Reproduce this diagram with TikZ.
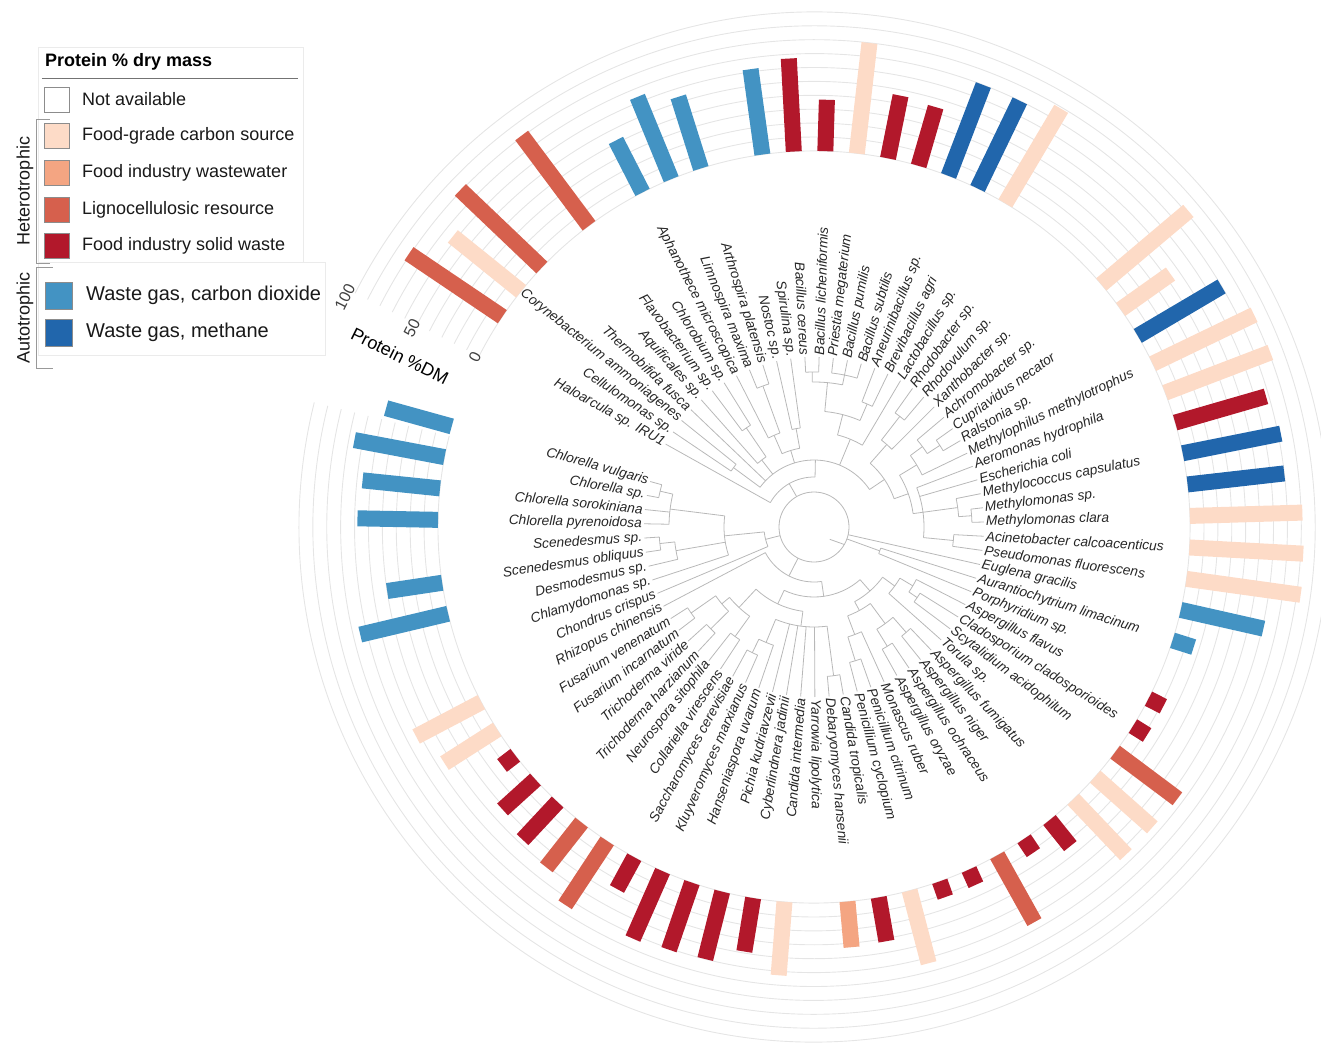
\documentclass[tikz,border=0pt]{standalone}
\usepackage{fontspec}
\setmainfont{Liberation Sans}
\usepackage{xcolor}
\usepackage{tikz}
\usetikzlibrary{positioning}

\definecolor{foodgrade}{HTML}{FDDBC7}
\definecolor{wastewater}{HTML}{F4A582}
\definecolor{ligno}{HTML}{D6604D}
\definecolor{solidwaste}{HTML}{B2182B}
\definecolor{co2}{HTML}{4393C3}
\definecolor{methane}{HTML}{2166AC}

\tikzset{
  treeline/.style={draw=black!28, line width=0.8pt},
  gridline/.style={draw=black!10, line width=0.9pt},
  leaftext/.style={font=\fontsize{13.75}{16}\selectfont\itshape, text=black!85, inner sep=0pt},
  keybox/.style={draw=black!45, line width=0.8pt, minimum size=25pt, inner sep=0pt},
  keytext/.style={font=\fontsize{18}{21}\selectfont, text=black!90, anchor=west, inner sep=0pt},
  autotext/.style={keytext, font=\fontsize{20}{23}\selectfont},
  bracket/.style={draw=black!40, line width=0.8pt},
}

% angle of leaf k
\newcommand{\ang}[1]{150.8-(#1-1)*4.81}
\newcommand{\tleaf}[2]{\draw[treeline] ({\ang{#1}}:#2) -- ({\ang{#1}}:170);}
\newcommand{\tstem}[3]{\draw[treeline] ({\ang{#1}}:#2) -- ({\ang{#1}}:#3);}
\newcommand{\tclade}[3]{\draw[treeline] ({\ang{#2}}:#1) arc[start angle={\ang{#2}}, end angle={\ang{#3}}, radius=#1];}
\newcommand{\pbar}[3]{\fill[#2, rotate={\ang{#1}}] (376,-8) rectangle ({376+1.39*#3},8);}
\newcommand{\leaf}[3]{%
  \pgfmathsetmacro{\leafang}{\ang{#1}}%
  \pgfmathparse{(\leafang>90 || \leafang<-90) ? 1 : 0}%
  \ifdim\pgfmathresult pt>0.5pt
    \node[leaftext, anchor=east, rotate=\leafang+180] (#2) at (\leafang:172) {#3};%
  \else
    \node[leaftext, anchor=west, rotate=\leafang] (#2) at (\leafang:172) {#3};%
  \fi}

\begin{document}
\begin{tikzpicture}[x=1pt, y=1pt]
    \useasboundingbox (-814,-518) rectangle (507,527);

    % grid rings of the bar track
    \foreach \g in {0,...,10}
        \draw[gridline] (153:{376+13.9*\g}) arc[start angle=153, end angle=-194, radius={376+13.9*\g}];

    % axis of the track
    \node[font=\fontsize{16}{18}\selectfont, text=black!75, rotate=63.5] (tick0) at (-339,170) {0};
    \node[font=\fontsize{16}{18}\selectfont, text=black!75, rotate=63.5] (tick50) at (-402,199) {50};
    \node[font=\fontsize{16}{18}\selectfont, text=black!75, rotate=63.5] (tick100) at (-469,230) {100};
    \node[font=\fontsize{18}{21}\selectfont, rotate=-26.5] (axistitle) at (-414,171) {Protein \%DM};

    % protein bars
    \pbar{2}{ligno}{81}
    \pbar{3}{foodgrade}{63}
    \pbar{4}{ligno}{81}
    \pbar{6}{ligno}{81}
    \pbar{8}{co2}{42}
    \pbar{9}{co2}{64}
    \pbar{10}{co2}{54}
    \pbar{12}{co2}{62}
    \pbar{13}{solidwaste}{67}
    \pbar{14}{solidwaste}{37}
    \pbar{15}{foodgrade}{80}
    \pbar{16}{solidwaste}{46}
    \pbar{17}{solidwaste}{44}
    \pbar{18}{methane}{70}
    \pbar{19}{methane}{70}
    \pbar{20}{foodgrade}{79}
    \pbar{24}{foodgrade}{82}
    \pbar{25}{foodgrade}{44}
    \pbar{26}{methane}{70}
    \pbar{27}{foodgrade}{81}
    \pbar{28}{foodgrade}{81}
    \pbar{29}{solidwaste}{68}
    \pbar{30}{methane}{72}
    \pbar{31}{methane}{70}
    \pbar{32}{foodgrade}{81}
    \pbar{33}{foodgrade}{82}
    \pbar{34}{foodgrade}{83}
    \pbar{35}{co2}{61}
    \pbar{36}{co2}{16}
    \pbar{38}{solidwaste}{12}
    \pbar{39}{solidwaste}{12}
    \pbar{40}{ligno}{56}
    \pbar{41}{foodgrade}{55}
    \pbar{42}{foodgrade}{55}
    \pbar{43}{solidwaste}{24}
    \pbar{44}{solidwaste}{12}
    \pbar{45}{ligno}{55}
    \pbar{46}{solidwaste}{12}
    \pbar{47}{solidwaste}{12}
    \pbar{48}{foodgrade}{54}
    \pbar{49}{solidwaste}{32}
    \pbar{50}{wastewater}{33}
    \pbar{52}{foodgrade}{53}
    \pbar{53}{solidwaste}{39}
    \pbar{54}{solidwaste}{50}
    \pbar{55}{solidwaste}{51}
    \pbar{56}{solidwaste}{53}
    \pbar{57}{solidwaste}{26}
    \pbar{58}{ligno}{55}
    \pbar{59}{ligno}{41}
    \pbar{60}{solidwaste}{37}
    \pbar{61}{solidwaste}{32}
    \pbar{62}{solidwaste}{12}
    \pbar{63}{foodgrade}{45}
    \pbar{64}{foodgrade}{53}
    \pbar{67}{co2}{65}
    \pbar{68}{co2}{40}
    \pbar{70}{co2}{58}
    \pbar{71}{co2}{56}
    \pbar{72}{co2}{66}
    \pbar{73}{co2}{49}

    % tree: root
    \draw[treeline] (0,0) circle[radius=35];
    \draw[treeline] (-38:20) -- (-30:35);
    % prokaryotes
    \tstem{7.45}{35}{50} \tclade{50}{1}{13.89} \tleaf{1}{50}
    \tstem{13.89}{50}{67} \tclade{67}{2.5}{25.28}
    \tstem{2.5}{67}{100} \tclade{100}{2}{3} \tleaf{2}{100} \tleaf{3}{100}
    \tleaf{4}{67}
    \tstem{5.75}{67}{85} \tclade{85}{5}{6.5} \tleaf{5}{85}
    \tstem{6.5}{85}{120} \tclade{120}{6}{7} \tleaf{6}{120} \tleaf{7}{120}
    \tstem{10.125}{67}{80} \tclade{80}{8.75}{11.5}
    \tstem{8.75}{80}{100} \tclade{100}{8}{9.5} \tleaf{8}{100}
    \tstem{9.5}{100}{150} \tclade{150}{9}{10} \tleaf{9}{150} \tleaf{10}{150}
    \tstem{11.5}{80}{100} \tclade{100}{11}{12} \tleaf{11}{100} \tleaf{12}{100}
    \tstem{18.31}{67}{95} \tclade{95}{16.625}{20} \tleaf{20}{95}
    \tstem{16.625}{95}{116} \tclade{116}{14.75}{18.5}
    \tstem{14.75}{116}{145} \tclade{145}{13.5}{16}
    \tstem{13.5}{145}{155} \tclade{155}{13}{14} \tleaf{13}{155} \tleaf{14}{155}
    \tstem{16}{145}{155} \tclade{155}{15}{17} \tleaf{15}{155} \tleaf{16}{155} \tleaf{17}{155}
    \tstem{18.5}{116}{134} \tclade{134}{18}{19} \tleaf{18}{134} \tleaf{19}{134}
    \tstem{25.28}{67}{85} \tclade{85}{22.25}{28.31}
    \tstem{22.25}{85}{110} \tclade{110}{21.5}{23} \tleaf{23}{110}
    \tstem{21.5}{110}{140} \tclade{140}{21}{22} \tleaf{21}{140} \tleaf{22}{140}
    \tstem{28.31}{85}{100} \tclade{100}{25.875}{30.75}
    \tstem{25.875}{100}{120} \tclade{120}{24.75}{27} \tleaf{27}{120}
    \tstem{24.75}{120}{135} \tclade{135}{24}{25.5} \tleaf{24}{135}
    \tstem{25.5}{135}{150} \tclade{150}{25}{26} \tleaf{25}{150} \tleaf{26}{150}
    \tstem{30.75}{100}{110} \tclade{110}{28}{33.5} \tleaf{28}{110} \tleaf{29}{110}
    \tstem{30.75}{110}{145} \tclade{145}{30}{31.5} \tleaf{30}{145}
    \tstem{31.5}{145}{158} \tclade{158}{31}{32} \tleaf{31}{158} \tleaf{32}{158}
    \tstem{33.5}{110}{140} \tclade{140}{33}{34} \tleaf{33}{140} \tleaf{34}{140}
    % eukaryotes
    \tleaf{35}{35}
    \tstem{36.5}{35}{70} \tclade{70}{36}{37} \tleaf{36}{70} \tleaf{37}{70}
    \tstem{56.7}{35}{55} \tclade{55}{49.4}{64} \tleaf{64}{55}
    \tstem{49.4}{55}{70} \tclade{70}{42.5}{56.31}
    \tstem{42.5}{70}{85} \tclade{85}{39.875}{45.125}
    \tstem{39.875}{85}{100} \tclade{100}{38.75}{41} \tleaf{41}{100}
    \tstem{38.75}{100}{115} \tclade{115}{38}{39.5} \tleaf{38}{115}
    \tstem{39.5}{115}{125} \tclade{125}{39}{40} \tleaf{39}{125} \tleaf{40}{125}
    \tstem{45.125}{85}{95} \tclade{95}{43.5}{46.75}
    \tstem{43.5}{95}{120} \tclade{120}{42.5}{44.5}
    \tstem{42.5}{120}{140} \tclade{140}{42}{43} \tleaf{42}{140} \tleaf{43}{140}
    \tstem{44.5}{120}{140} \tclade{140}{44}{45} \tleaf{44}{140} \tleaf{45}{140}
    \tstem{46.75}{95}{115} \tclade{115}{46}{47.5} \tleaf{46}{115}
    \tstem{47.5}{115}{140} \tclade{140}{47}{48} \tleaf{47}{140} \tleaf{48}{140}
    \tstem{56.31}{70}{85} \tclade{85}{52.625}{60}
    \tstem{52.625}{85}{100} \tclade{100}{49.5}{55.75}
    \tleaf{51}{100} \tleaf{52}{100} \tleaf{53}{100} \tleaf{54}{100}
    \tstem{49.5}{100}{150} \tclade{150}{49}{50} \tleaf{49}{150} \tleaf{50}{150}
    \tstem{55.75}{100}{125} \tclade{125}{55}{56.5} \tleaf{55}{125}
    \tstem{56.5}{125}{140} \tclade{140}{56}{57} \tleaf{56}{140} \tleaf{57}{140}
    \tstem{60}{85}{110} \tclade{110}{58.5}{61.5}
    \tstem{58.5}{110}{135} \tclade{135}{58}{59} \tleaf{58}{135} \tleaf{59}{135}
    \tstem{61.5}{110}{120} \tclade{120}{60.5}{62.5}
    \tstem{60.5}{120}{145} \tclade{145}{60}{61} \tleaf{60}{145} \tleaf{61}{145}
    \tstem{62.5}{120}{150} \tclade{150}{62}{63} \tleaf{62}{150} \tleaf{63}{150}
    \tstem{66.8}{35}{50} \tclade{50}{65}{68.6} \tleaf{65}{50}
    \tstem{68.6}{50}{90} \tclade{90}{66}{71.25} \tleaf{66}{90}
    \tstem{67.75}{90}{140} \tclade{140}{67}{68.5} \tleaf{67}{140}
    \tstem{68.5}{140}{155} \tclade{155}{68}{69} \tleaf{68}{155} \tleaf{69}{155}
    \tstem{71.25}{90}{145} \tclade{145}{70}{72.5} \tleaf{70}{145} \tleaf{71}{145}
    \tstem{72.5}{145}{158} \tclade{158}{72}{73} \tleaf{72}{158} \tleaf{73}{158}

    % tip labels
    \leaf{1}{haloarcula}{Haloarcula sp. IRU1}
    \leaf{2}{cellulomonas}{Cellulomonas sp.}
    \leaf{3}{corynebact}{Corynebacterium ammoniagenes}
    \leaf{4}{thermobifida}{Thermobifida fusca}
    \leaf{5}{aquificales}{Aquificales sp.}
    \leaf{6}{flavobact}{Flavobacterium sp.}
    \leaf{7}{chlorobium}{Chlorobium sp.}
    \leaf{8}{aphanothece}{Aphanothece microscopica}
    \leaf{9}{limnospira}{Limnospira maxima}
    \leaf{10}{arthrospira}{Arthrospira platensis}
    \leaf{11}{nostoc}{Nostoc sp.}
    \leaf{12}{spirulina}{Spirulina sp.}
    \leaf{13}{bcereus}{Bacillus cereus}
    \leaf{14}{blicheni}{Bacillus licheniformis}
    \leaf{15}{priestia}{Priestia megaterium}
    \leaf{16}{bpumilis}{Bacillus pumilis}
    \leaf{17}{bsubtilis}{Bacillus subtilis}
    \leaf{18}{aneurini}{Aneurinibacillus sp.}
    \leaf{19}{brevi}{Brevibacillus agri}
    \leaf{20}{lacto}{Lactobacillus sp.}
    \leaf{21}{rhodobact}{Rhodobacter sp.}
    \leaf{22}{rhodovulum}{Rhodovulum sp.}
    \leaf{23}{xantho}{Xanthobacter sp.}
    \leaf{24}{achromo}{Achromobacter sp.}
    \leaf{25}{cupria}{Cupriavidus necator}
    \leaf{26}{ralstonia}{Ralstonia sp.}
    \leaf{27}{methylophilus}{Methylophilus methylotrophus}
    \leaf{28}{aeromonas}{Aeromonas hydrophila}
    \leaf{29}{ecoli}{Escherichia coli}
    \leaf{30}{methylococcus}{Methylococcus capsulatus}
    \leaf{31}{methylomonas}{Methylomonas sp.}
    \leaf{32}{mclara}{Methylomonas clara}
    \leaf{33}{acineto}{Acinetobacter calcoacenticus}
    \leaf{34}{pseudo}{Pseudomonas fluorescens}
    \leaf{35}{euglena}{Euglena gracilis}
    \leaf{36}{auranti}{Aurantiochytrium limacinum}
    \leaf{37}{porphyr}{Porphyridium sp.}
    \leaf{38}{aflavus}{Aspergillus flavus}
    \leaf{39}{clado}{Cladosporium cladosporioides}
    \leaf{40}{scytal}{Scytalidium acidophilum}
    \leaf{41}{torula}{Torula sp.}
    \leaf{42}{afumig}{Aspergillus fumigatus}
    \leaf{43}{aniger}{Aspergillus niger}
    \leaf{44}{aochra}{Aspergillus ochraceus}
    \leaf{45}{aoryzae}{Aspergillus oryzae}
    \leaf{46}{monascus}{Monascus ruber}
    \leaf{47}{pcitrin}{Penicillium citrinum}
    \leaf{48}{pcyclo}{Penicillium cyclopium}
    \leaf{49}{ctropic}{Candida tropicalis}
    \leaf{50}{debary}{Debaryomyces hansenii}
    \leaf{51}{yarrowia}{Yarrowia lipolytica}
    \leaf{52}{cinterm}{Candida intermedia}
    \leaf{53}{cyberl}{Cyberlindnera jadinii}
    \leaf{54}{pichia}{Pichia kudriavzevii}
    \leaf{55}{hansen}{Hanseniaspora uvarum}
    \leaf{56}{kluyvero}{Kluyveromyces marxianus}
    \leaf{57}{sacchar}{Saccharomyces cerevisiae}
    \leaf{58}{collar}{Collariella virescens}
    \leaf{59}{neurosp}{Neurospora sitophila}
    \leaf{60}{tharz}{Trichoderma harzianum}
    \leaf{61}{tviride}{Trichoderma viride}
    \leaf{62}{fincarn}{Fusarium incarnatum}
    \leaf{63}{fvenen}{Fusarium venenatum}
    \leaf{64}{rhizopus}{Rhizopus chinensis}
    \leaf{65}{chondrus}{Chondrus crispus}
    \leaf{66}{chlamy}{Chlamydomonas sp.}
    \leaf{67}{desmo}{Desmodesmus sp.}
    \leaf{68}{sobliq}{Scenedesmus obliquus}
    \leaf{69}{scened}{Scenedesmus sp.}
    \leaf{70}{cpyren}{Chlorella pyrenoidosa}
    \leaf{71}{csorok}{Chlorella sorokiniana}
    \leaf{72}{csp}{Chlorella sp.}
    \leaf{73}{cvulg}{Chlorella vulgaris}

    % legend
    \draw[black!8, fill=white] (-776,480) rectangle (-511,265);
    \draw[black!8, fill=white] (-776,265) rectangle (-489,172);
    \node[font=\fontsize{18}{21}\selectfont\bfseries, anchor=west, inner sep=0pt] (legtitle) at (-769,465) {Protein \% dry mass};
    \draw[black!55, line width=0.9pt] (-772,449) -- (-516,449);
    \node[keybox, fill=white] (keyna) at (-757.5,427.5) {};
    \node[keybox, fill=foodgrade] (keyfg) at (-757.5,391.5) {};
    \node[keybox, fill=wastewater] (keyww) at (-757.5,354.5) {};
    \node[keybox, fill=ligno] (keylr) at (-757.5,317.5) {};
    \node[keybox, fill=solidwaste] (keysw) at (-757.5,281.5) {};
    \node[keybox, fill=co2, minimum size=27pt] (keyco) at (-755.5,231.5) {};
    \node[keybox, fill=methane, minimum size=27pt] (keych) at (-755.5,194.5) {};
    \node[keytext] at (-732,427.5) {Not available};
    \node[keytext] at (-732,391.5) {Food-grade carbon source};
    \node[keytext] at (-732,354.5) {Food industry wastewater};
    \node[keytext] at (-732,317.5) {Lignocellulosic resource};
    \node[keytext] at (-732,281.5) {Food industry solid waste};
    \node[autotext] at (-728,231.5) {Waste gas, carbon dioxide};
    \node[autotext] at (-728,194.5) {Waste gas, methane};
    \draw[bracket] (-764,408) -- (-778,408) -- (-778,264) -- (-764,264);
    \draw[bracket] (-761,260) -- (-778,260) -- (-778,159) -- (-761,159);
    \node[keytext, anchor=center, rotate=90] (hetero) at (-789,336) {Heterotrophic};
    \node[keytext, anchor=center, rotate=90] (auto) at (-789,209) {Autotrophic};
\end{tikzpicture}
\end{document}
